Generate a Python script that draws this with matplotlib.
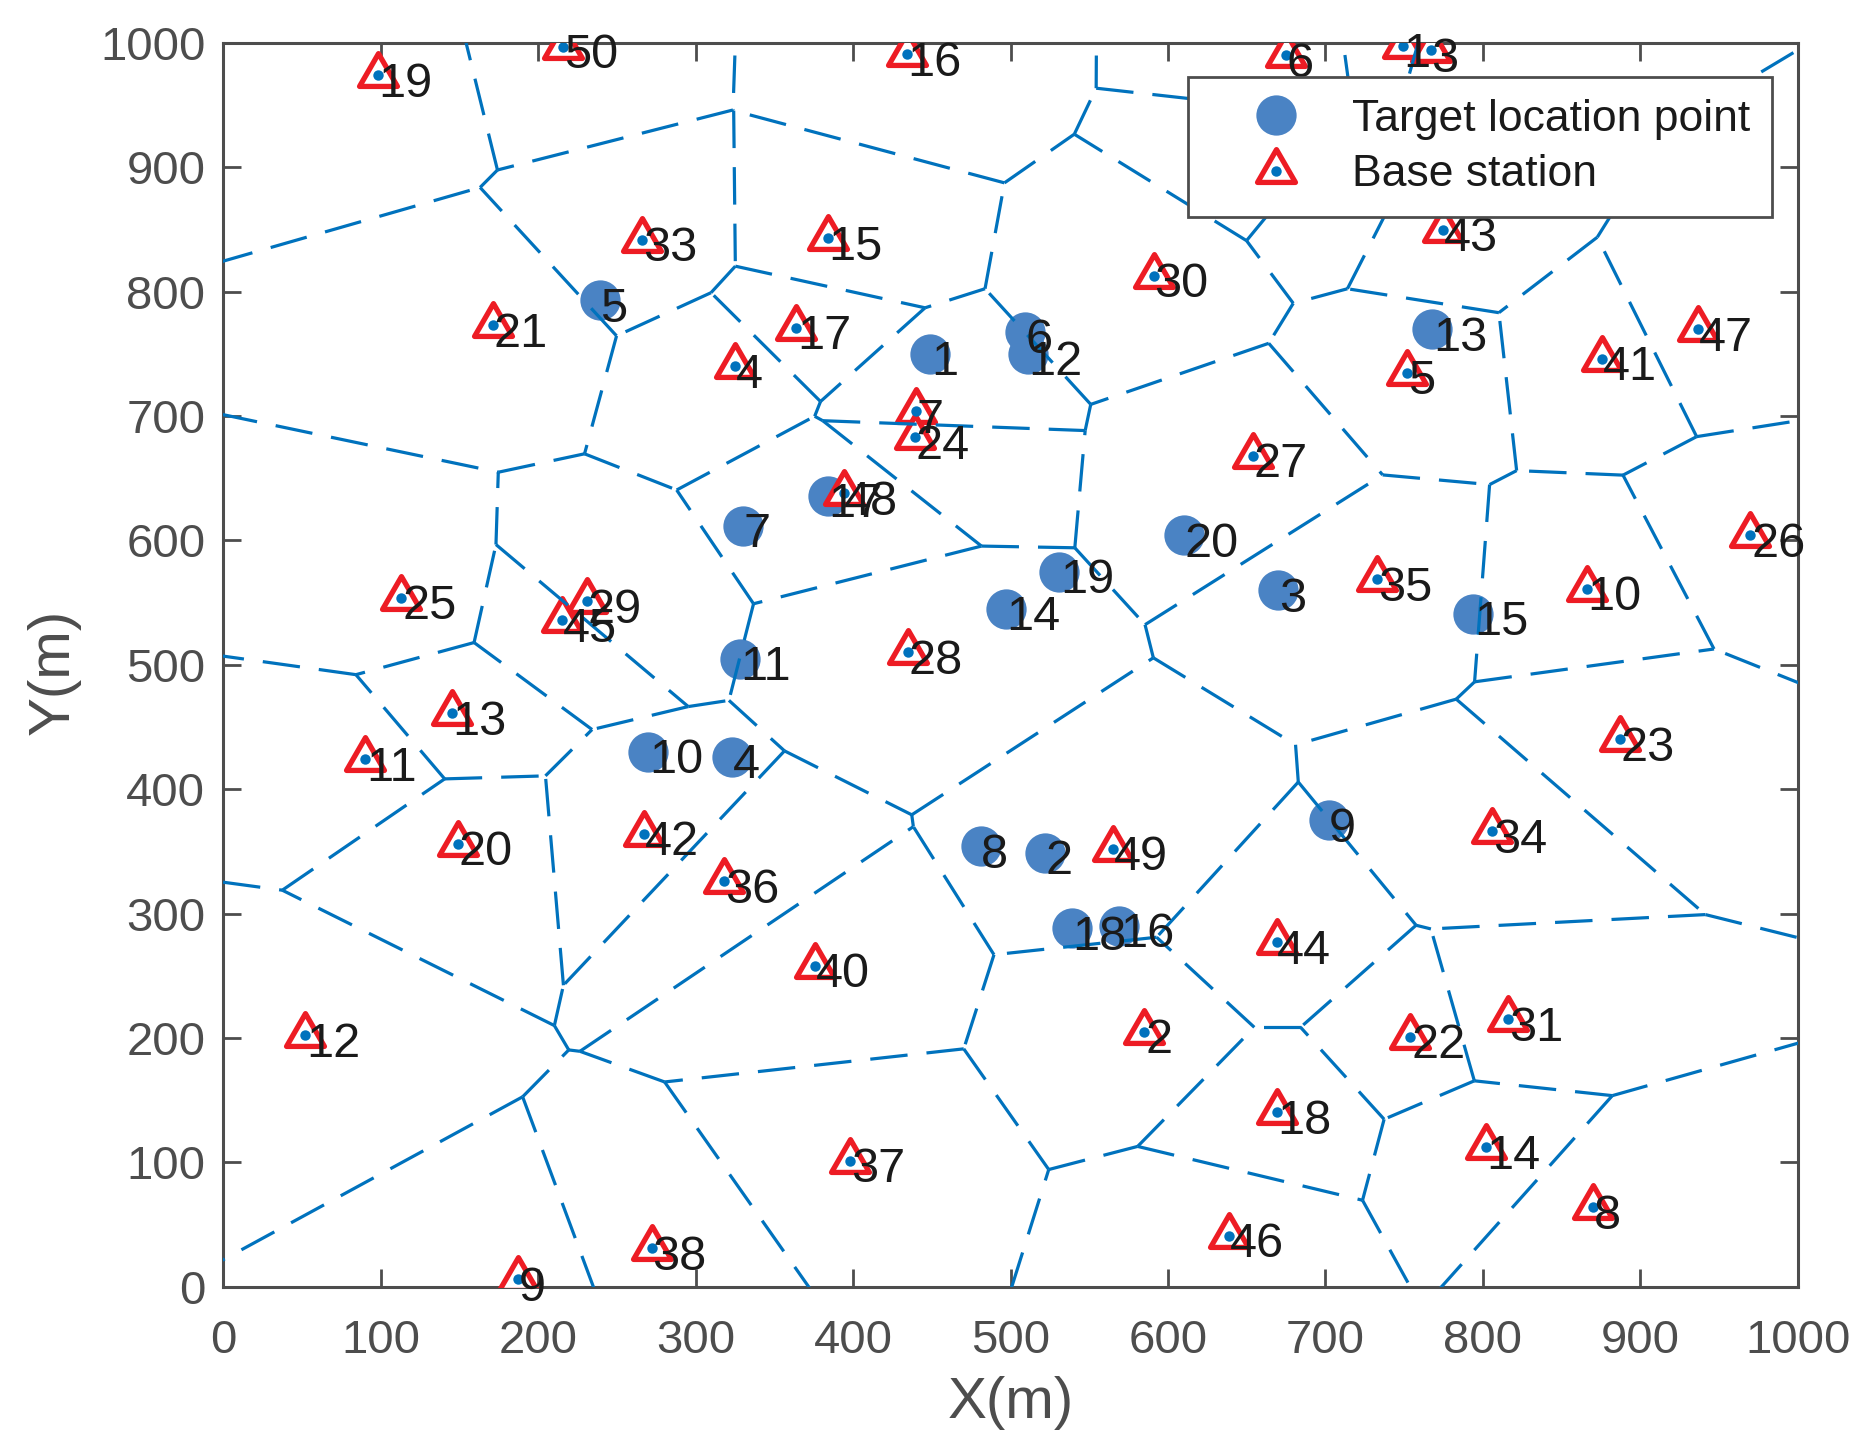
import numpy as np
import matplotlib
matplotlib.use("Agg")
import matplotlib.pyplot as plt
from matplotlib.path import Path
from matplotlib.markers import MarkerStyle
from matplotlib.lines import Line2D
from matplotlib.legend_handler import HandlerTuple

# ---------------- data ----------------
# base stations 1..50 (32 and 39 sit under the legend)
station_x = [749, 585, 767, 325, 752, 675, 440, 870, 187, 866,
             90, 52, 145, 802, 384, 434, 364, 669, 98, 149,
             171, 754, 887, 439, 113, 970, 654, 435, 231, 591,
             816, 663, 266, 806, 733, 318, 398, 272, 703, 376,
             876, 267, 775, 669, 215, 639, 937, 394, 565, 216]
station_y = [998, 205, 994, 740, 735, 990, 704, 64, 6, 561,
             424, 202, 461, 112, 843, 991, 771, 140, 974, 356,
             773, 201, 440, 683, 554, 604, 668, 510, 551, 813,
             215, 905, 842, 366, 569, 326, 101, 31, 879, 258,
             746, 364, 850, 277, 536, 41, 770, 638, 352, 997]
station_labels = [str(i) for i in range(1, 51)]

# target location points 1..20
target_x = [449, 522, 670, 323, 239, 509, 330, 481, 702, 270,
            328, 511, 768, 497, 794, 569, 384, 539, 531, 610]
target_y = [750, 349, 560, 426, 793, 768, 612, 354, 375, 430,
            505, 750, 770, 545, 541, 290, 636, 288, 575, 604]
target_labels = [str(i) for i in range(1, 21)]

x_ticks = [0, 100, 200, 300, 400, 500, 600, 700, 800, 900, 1000]
y_ticks = [0, 100, 200, 300, 400, 500, 600, 700, 800, 900, 1000]


def voronoi_edges(px, py, lim=20000.0):
    pts = np.column_stack([px, py]).astype(float)
    n = len(pts)
    edges = []
    for i in range(n):
        for j in range(i + 1, n):
            a, b = pts[i], pts[j]
            m = (a + b) / 2.0
            d = np.array([-(b - a)[1], (b - a)[0]])
            d = d / np.linalg.norm(d)
            lo, hi = -lim, lim
            ok = True
            for k in range(n):
                if k == i or k == j:
                    continue
                c = pts[k]
                w = c - a
                rhs = (c @ c - a @ a) / 2.0 - m @ w
                coef = d @ w
                if abs(coef) < 1e-12:
                    if rhs < 0:
                        ok = False
                        break
                    continue
                t = rhs / coef
                if coef > 0:
                    hi = min(hi, t)
                else:
                    lo = max(lo, t)
                if lo >= hi:
                    ok = False
                    break
            if ok and hi - lo > 1e-9:
                p0 = m + lo * d
                p1 = m + hi * d
                if lo == -lim and hi != lim:
                    p0, p1 = p1, p0
                edges.append((p0, p1))
    return edges


plt.rcParams["font.family"] = ["Liberation Sans", "DejaVu Sans"]
plt.rcParams["lines.scale_dashes"] = False

fig = plt.figure(figsize=(18.65, 14.49), dpi=100)
ax = fig.add_axes([0.1198, 0.1121, 0.9639 - 0.1198, 0.9703 - 0.1121])

axis_gray = "#4d4d4d"
target_color = "#4a83c4"
station_red = "#ed1c24"
mat_blue = "#0072bd"

tri_path = Path([(0, 1), (-0.866, -0.5), (0.866, -0.5), (0, 1)],
                [Path.MOVETO, Path.LINETO, Path.LINETO, Path.CLOSEPOLY])
tri_marker = MarkerStyle(tri_path, joinstyle="miter")

TRI_SIZE = 31.5
TRI_EW = 3.8
DOT_SIZE = 7.5
CIRC_SIZE = 29

# targets
ax.plot(target_x, target_y, linestyle="none", marker="o", markersize=CIRC_SIZE,
        markerfacecolor=target_color, markeredgecolor="none", zorder=2)
# stations
ax.plot(station_x, station_y, linestyle="none", marker=tri_marker,
        markersize=TRI_SIZE, markerfacecolor="white", markeredgecolor=station_red,
        markeredgewidth=TRI_EW, zorder=3)
ax.plot(station_x, station_y, linestyle="none", marker="o", markersize=DOT_SIZE,
        markerfacecolor=mat_blue, markeredgecolor="none", zorder=4)

# voronoi edges of base stations
for p0, p1 in voronoi_edges(station_x, station_y):
    ax.plot([p0[0], p1[0]], [p0[1], p1[1]], color=mat_blue, linewidth=2.3,
            linestyle=(0, (27, 13.7)), zorder=5, solid_capstyle="butt",
            dash_capstyle="butt")

label_kw = dict(textcoords="offset points", xytext=(0.5, -15.5),
                ha="left", va="baseline", fontsize=35, color="#1a1a1a",
                zorder=6)
for x, y, s in zip(target_x, target_y, target_labels):
    ax.annotate(s, (x, y), **label_kw)
for x, y, s in zip(station_x, station_y, station_labels):
    ax.annotate(s, (x, y), **label_kw)

ax.set_xlim(0, 1000)
ax.set_ylim(0, 1000)
ax.set_xticks(x_ticks)
ax.set_yticks(y_ticks)
ax.tick_params(direction="in", length=13, width=2.0, colors=axis_gray,
               labelsize=34, top=True, right=True)
ax.tick_params(axis="x", pad=23)
ax.tick_params(axis="y", pad=13)
for sp in ax.spines.values():
    sp.set_color(axis_gray)
    sp.set_linewidth(2.2)

ax.set_xlabel("X(m)", fontsize=42, color=axis_gray)
ax.set_ylabel("Y(m)", fontsize=42, color=axis_gray)
ax.xaxis.set_label_coords(0.5, -0.094)
ax.xaxis.label.set_va("center")
ax.yaxis.set_label_coords(-0.108, 0.494)
ax.yaxis.label.set_va("center")
ax.yaxis.label.set_ha("center")

h_target = Line2D([], [], linestyle="none", marker="o", markersize=CIRC_SIZE,
                  markerfacecolor=target_color, markeredgecolor="none")
h_tri = Line2D([], [], linestyle="none", marker=tri_marker, markersize=TRI_SIZE,
               markerfacecolor="white", markeredgecolor=station_red,
               markeredgewidth=TRI_EW)
h_dot = Line2D([], [], linestyle="none", marker="o", markersize=DOT_SIZE,
               markerfacecolor=mat_blue, markeredgecolor="none")
leg = ax.legend([h_target, (h_tri, h_dot)],
                ["Target location point", "Base station"],
                handler_map={tuple: HandlerTuple(ndivide=1)},
                loc="upper right", bbox_to_anchor=(1772.3 / 1865, 1 - 76.7 / 1449),
                bbox_transform=fig.transFigure, borderaxespad=0,
                fontsize=32, handlelength=2.93, handletextpad=0.25,
                borderpad=0.5, labelspacing=0.32, framealpha=1,
                fancybox=False, edgecolor=axis_gray)
leg.get_frame().set_linewidth(2.0)
leg.set_zorder(10)
for t in leg.get_texts():
    t.set_color("#1a1a1a")

fig.savefig("out.png", dpi=100, facecolor="white")
